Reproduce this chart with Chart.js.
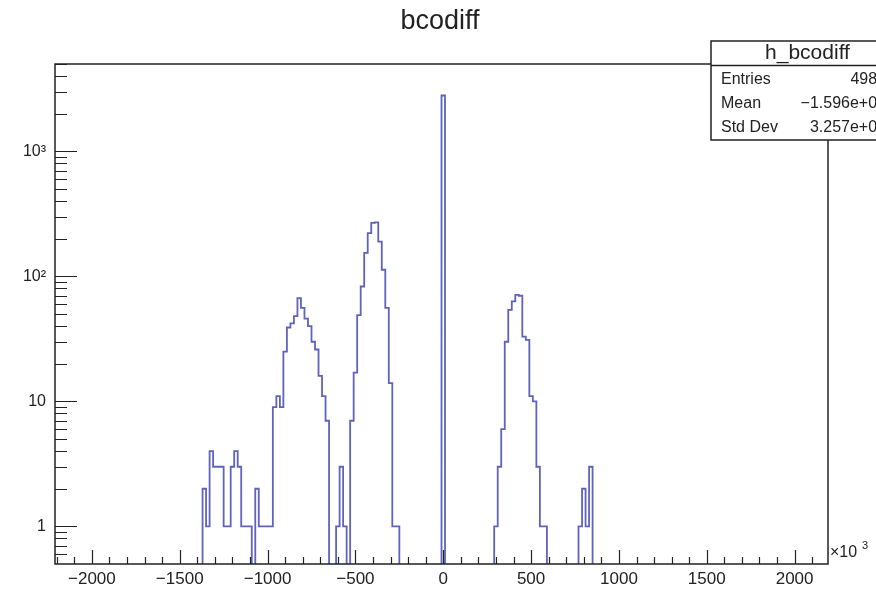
<!DOCTYPE html>
<html>
<head>
<meta charset="utf-8">
<script src="https://cdn.jsdelivr.net/npm/chart.js@4"></script>
<style>
  html, body { margin:0; padding:0; background:#fff; }
</style>
</head>
<body>
<canvas id="c" width="876" height="589"></canvas>
<script>
// histogram binning (x axis in units of 10^3)
const binWidth = 20;
const histMin = -2210, histMax = 2190;

// bin contents, each group starts at the lower edge given
const leftTailStart = -1370;
const leftTail = [2, 1, 4, 3, 3, 3, 1, 1, 3, 4, 3, 1, 1, 1, 0, 2, 1, 1, 1, 1];
const peakA_start = -970;
const peakA = [9, 11, 9, 25, 39, 42, 48, 67, 56, 46, 40, 30, 26, 16, 11, 7];
const gapStart = -610;
const gap = [1, 3, 1, 0];
const peakB_start = -530;
const peakB = [7, 17, 49, 83, 154, 222, 268, 270, 190, 113, 56, 14, 1, 1];
const spikeStart = -10;
const spike = [2800];
const peakC_start = 290;
const peakC = [1, 3, 6, 30, 54, 63, 71, 70, 33, 31, 11, 10, 3, 1, 1];
const rightTailStart = 770;
const rightTail = [1, 2, 1, 3];

const xTickValues = [-2000, -1500, -1000, -500, 0, 500, 1000, 1500, 2000];
const yTickValues = [1, 10, 100, 1000];
const yTickLabels = ['1', '10', '10\u00b2', '10\u00b3'];

const statsTitle = 'h_bcodiff';
const statsNames = ['Entries', 'Mean', 'Std Dev'];
const statsValues = ['4986', '\u22121.596e+05', '3.257e+05'];

const FONT = "'Liberation Sans', Arial, Helvetica, sans-serif";
const EMPTY = 0.1; // empty bins sit below the axis minimum, like ROOT on log y

// fill the full bin array
const counts = new Array((histMax - histMin) / binWidth).fill(0);
[[leftTailStart, leftTail], [peakA_start, peakA], [gapStart, gap], [peakB_start, peakB],
 [spikeStart, spike], [peakC_start, peakC], [rightTailStart, rightTail]].forEach(([s, vals]) => {
  vals.forEach((c, i) => { counts[(s - histMin) / binWidth + i] = c; });
});
const points = counts.map((c, i) => ({ x: histMin + i * binWidth, y: c > 0 ? c : EMPTY }));
points.push({ x: histMax, y: EMPTY });

// ROOT-like frame, inward ticks, title and stats box
const rootDecor = {
  id: 'rootDecor',
  afterDraw(chart) {
    const { ctx, chartArea: a, scales: { x, y } } = chart;
    ctx.save();
    ctx.strokeStyle = '#222';
    ctx.lineWidth = 1.5;
    ctx.strokeRect(a.left, a.top, a.right - a.left, a.bottom - a.top);

    ctx.beginPath();
    for (let v = -2200; v <= 2100; v += 100) {
      const px = Math.round(x.getPixelForValue(v)) + 0.5;
      const len = v % 500 === 0 ? 14 : 7;
      ctx.moveTo(px, a.bottom);
      ctx.lineTo(px, a.bottom - len);
    }
    [0.1, 1, 10, 100, 1000].forEach(d => {
      for (let m = 1; m <= 9; m++) {
        const v = m * d;
        if (v <= 0.5 || v > 5000) continue;
        const py = Math.round(y.getPixelForValue(v)) + 0.5;
        const len = m === 1 ? 22 : 12;
        ctx.moveTo(a.left, py);
        ctx.lineTo(a.left + len, py);
      }
    });
    ctx.lineWidth = 1.2;
    ctx.stroke();

    // x10^3 on the x axis
    ctx.fillStyle = '#222';
    ctx.textBaseline = 'middle';
    ctx.textAlign = 'left';
    ctx.font = '16px ' + FONT;
    ctx.fillText('\u00d710', 830, 553);
    ctx.font = '11px ' + FONT;
    ctx.fillText('3', 862, 546);

    // title
    ctx.textAlign = 'center';
    ctx.font = '27px ' + FONT;
    ctx.fillText('bcodiff', 440, 22);

    // stats box
    const bx = 711, by = 41, bw = 193, bh = 99;
    ctx.fillStyle = '#fff';
    ctx.fillRect(bx, by, bw, bh);
    ctx.lineWidth = 1.5;
    ctx.strokeRect(bx, by, bw, bh);
    ctx.beginPath();
    ctx.moveTo(bx, 65.5);
    ctx.lineTo(bx + bw, 65.5);
    ctx.stroke();
    ctx.fillStyle = '#222';
    ctx.font = '21px ' + FONT;
    ctx.fillText(statsTitle, bx + bw / 2, 53);
    ctx.font = '16px ' + FONT;
    statsNames.forEach((n, i) => {
      const ry = 80 + i * 24;
      ctx.textAlign = 'left';
      ctx.fillText(n, 721, ry);
      ctx.textAlign = 'right';
      ctx.fillText(statsValues[i], 886, ry);
    });
    ctx.restore();
  }
};

new Chart(document.getElementById('c'), {
  type: 'line',
  data: {
    datasets: [{
      data: points,
      stepped: true,
      borderColor: '#5f63bd',
      borderWidth: 1.8,
      pointRadius: 0,
      fill: false
    }]
  },
  options: {
    responsive: false,
    animation: false,
    layout: { padding: { top: 64, right: 48, left: 0, bottom: 0 } },
    plugins: { legend: { display: false }, tooltip: { enabled: false } },
    scales: {
      x: {
        type: 'linear', min: histMin, max: histMax,
        grid: { display: false, drawTicks: false },
        border: { display: false },
        afterBuildTicks: s => { s.ticks = xTickValues.map(v => ({ value: v })); },
        afterFit: s => { s.height = 25; },
        ticks: {
          autoSkip: false, maxRotation: 0, padding: 5, color: '#222',
          font: { family: FONT, size: 17 },
          callback: v => (v < 0 ? '\u2212' + Math.abs(v) : String(v))
        }
      },
      y: {
        type: 'logarithmic', min: 0.5, max: 5000,
        grid: { display: false, drawTicks: false },
        border: { display: false },
        afterBuildTicks: s => { s.ticks = yTickValues.map(v => ({ value: v })); },
        afterFit: s => { s.width = 55; },
        ticks: {
          autoSkip: false, padding: 9, color: '#222',
          font: { family: FONT, size: 16 },
          callback: v => yTickLabels[yTickValues.indexOf(v)]
        }
      }
    }
  },
  plugins: [rootDecor]
});
</script>
</body>
</html>
